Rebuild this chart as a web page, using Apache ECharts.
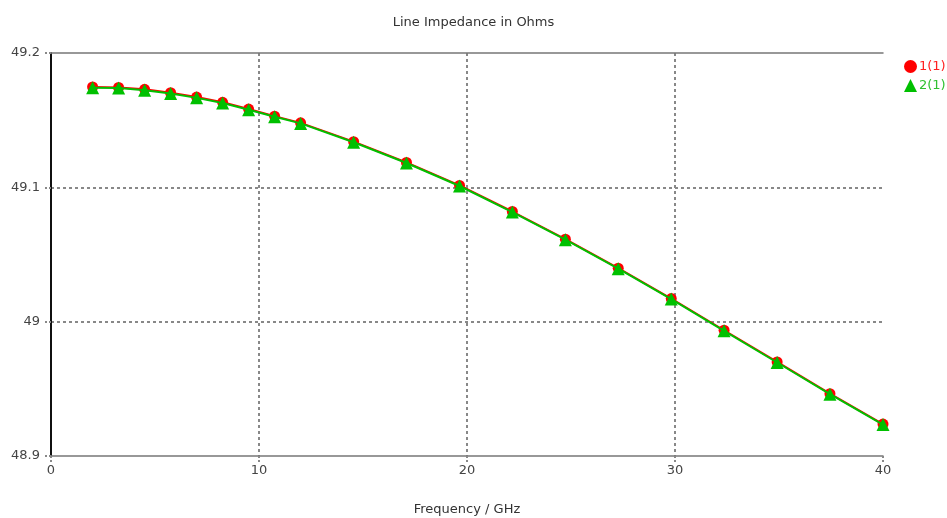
<!DOCTYPE html>
<html><head><meta charset="utf-8">
<script src="https://cdn.jsdelivr.net/npm/echarts@6/dist/echarts.min.js"></script>
<style>html,body{margin:0;padding:0;background:#fff}#c{width:947px;height:518px}</style>
</head><body><div id="c"></div>
<script>
const freq = [2, 3.25, 4.5, 5.75, 7, 8.25, 9.5, 10.75, 12, 14.55, 17.09, 19.64, 22.18, 24.73, 27.27, 29.82, 32.36, 34.91, 37.45, 40];
const z1 = [49.1747, 49.1744, 49.173, 49.1705, 49.1672, 49.1633, 49.1583, 49.153, 49.148, 49.134, 49.1185, 49.1014, 49.082, 49.0614, 49.0398, 49.0172, 48.9936, 48.970, 48.9464, 48.9238];
const z2 = [49.1741, 49.1739, 49.1722, 49.1698, 49.1666, 49.1628, 49.1578, 49.1526, 49.1476, 49.1336, 49.1181, 49.101, 49.0816, 49.061, 49.0394, 49.0168, 48.9932, 48.9696, 48.946, 48.9234];
const xTicks = [0, 10, 20, 30, 40];
const yTicks = [48.9, 49, 49.1, 49.2];
const title = 'Line Impedance in Ohms';
const xName = 'Frequency / GHz';
const names = ['1(1)', '2(1)'];

const font = 'DejaVu Sans';
const chart = echarts.init(document.getElementById('c'));
const pairs = a => freq.map((f, i) => [f, a[i]]);
chart.setOption({
  animation: false,
  title: { text: title, left: 'center', top: 11, textStyle: { fontFamily: font, fontSize: 13, fontWeight: 'normal', color: '#333' } },
  legend: {
    orient: 'vertical', left: 899, top: 55, itemGap: 6, itemWidth: 13, itemHeight: 13,
    textStyle: { fontFamily: font, fontSize: 13, padding: [0, 0, 0, -3] },
    data: [
      { name: names[0], icon: 'circle', textStyle: { color: '#ff2020' } },
      { name: names[1], icon: 'triangle', textStyle: { color: '#30c030' } }
    ]
  },
  grid: { left: 51, right: 64, top: 53, bottom: 62, outerBoundsMode: 'none', containLabel: false },
  xAxis: [{
    type: 'value', min: 0, max: 40, interval: 10,
    name: xName, nameLocation: 'middle', nameGap: 47,
    nameTextStyle: { fontFamily: font, fontSize: 13, color: '#333' },
    axisLine: { onZero: false, lineStyle: { color: '#777', width: 1.5 } },
    axisTick: { show: true, length: 7, lineStyle: { color: '#888', type: 'dotted', width: 2 } },
    axisLabel: { fontFamily: font, fontSize: 13, color: '#444', margin: 8 },
    splitLine: { show: true, showMinLine: false, showMaxLine: false, lineStyle: { color: '#888', type: [3, 3], width: 2 } }
  }, {
    type: 'value', min: 0, max: 40, position: 'top',
    axisLine: { show: true, lineStyle: { color: '#777', width: 1.5 } }, axisTick: { show: false }, axisLabel: { show: false }, splitLine: { show: false }
  }],
  yAxis: [{
    type: 'value', min: 48.9, max: 49.2, interval: 0.1,
    axisLine: { show: true, onZero: false, lineStyle: { color: '#000', width: 1.5 } },
    axisTick: { show: true, length: 7, lineStyle: { color: '#888', type: 'dotted', width: 2 } },
    axisLabel: { fontFamily: font, fontSize: 13, color: '#444', margin: 11, formatter: v => String(Math.round(v * 10) / 10) },
    splitLine: { show: true, showMinLine: false, showMaxLine: false, lineStyle: { color: '#888', type: [3, 3], width: 2 } }
  }, {
    type: 'value', min: 48.9, max: 49.2, position: 'right',
    axisLine: { show: true, lineStyle: { color: '#000', width: 1.5 } }, axisTick: { show: false }, axisLabel: { show: false }, splitLine: { show: false }
  }],
  series: [
    { name: names[0], type: 'line', data: pairs(z1), symbol: 'circle', symbolSize: 11,
      lineStyle: { color: '#ff0000', width: 2 }, itemStyle: { color: '#ff0000' }, z: 2 },
    { name: names[1], type: 'line', data: pairs(z2), symbol: 'triangle', symbolSize: 13,
      lineStyle: { color: '#00c000', width: 2 }, itemStyle: { color: '#00c000' }, z: 3 }
  ]
});
</script></body></html>
